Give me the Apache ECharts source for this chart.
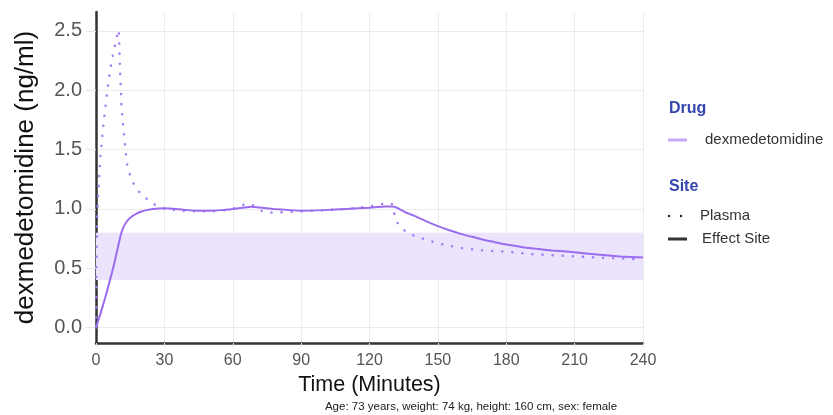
<!DOCTYPE html>
<html><head><meta charset="utf-8">
<script src="https://cdn.jsdelivr.net/npm/echarts@6/dist/echarts.min.js"></script>
<style>html,body{margin:0;padding:0;background:#fff}#c{width:833px;height:415px}</style>
</head><body><div id="c"></div>
<script>
const xTicks = [0, 30, 60, 90, 120, 150, 180, 210, 240];
const yTicks = [0.0, 0.5, 1.0, 1.5, 2.0, 2.5];
const targetBand = [0.4, 0.8];

const plasmaTime = [0,0.2,0.5,1,1.5,2,3,4,5,6,7,8,9,10,10.2,10.5,10.8,11.2,11.7,12.3,13,13.7,15,17,20,24,27,30,35,40,45,50,55,60,63,66,68,70,73,76,80,85,90,95,100,105,110,115,120,125,129,130,131,132,134,136,140,145,150,155,160,170,180,190,200,210,220,230,240];
const plasmaConc = [0,0.6,0.95,1.15,1.32,1.45,1.66,1.84,2.0,2.14,2.26,2.35,2.44,2.51,2.4,2.2,2.05,1.86,1.74,1.63,1.48,1.37,1.28,1.19,1.12,1.06,1.02,1.0,0.99,0.98,0.98,0.98,0.985,1.0,1.03,1.04,1.04,1.02,0.98,0.97,0.97,0.975,0.98,0.985,0.99,0.995,1.0,1.01,1.02,1.04,1.05,1.04,0.95,0.89,0.84,0.81,0.77,0.74,0.71,0.69,0.67,0.65,0.64,0.62,0.61,0.60,0.59,0.583,0.575];

const effectTime = [0,2,4,6,8,10,11,12,13,14,15,16,18,20,22,25,30,35,40,45,50,55,60,65,68,72,78,85,90,100,110,120,127,130,132,134,136,138,140,145,150,155,160,165,170,175,180,190,200,210,220,230,240];
const effectConc = [0,0.12,0.25,0.39,0.54,0.71,0.79,0.845,0.88,0.905,0.925,0.94,0.963,0.978,0.99,1.0,1.005,1.0,0.99,0.985,0.985,0.99,1.0,1.012,1.018,1.012,1.0,0.99,0.985,0.99,1.0,1.01,1.02,1.02,1.01,0.99,0.97,0.955,0.94,0.895,0.855,0.82,0.79,0.765,0.74,0.72,0.70,0.67,0.65,0.635,0.615,0.60,0.59];

const FONT = "'Liberation Sans', Arial, sans-serif";
const zip = (a, b) => a.map((v, i) => [v, b[i]]);

const chart = echarts.init(document.getElementById('c'));
chart.setOption({
  animation: false,
  textStyle: { fontFamily: FONT },
  grid: { left: 96, right: 190, top: 12, bottom: 72 },
  xAxis: {
    type: 'value', min: 0, max: 240, interval: 30,
    name: 'Time (Minutes)', nameLocation: 'middle', nameGap: 24,
    nameTextStyle: { fontSize: 21.5, color: '#111', fontFamily: FONT },
    axisLine: { show: true, onZero: false, lineStyle: { color: '#333', width: 2.5 } },
    axisTick: { show: true, length: 4, lineStyle: { color: '#e6e6e6' } },
    axisLabel: { fontSize: 16, color: '#555', margin: 10, fontFamily: FONT },
    splitLine: { show: true, lineStyle: { color: '#ebebeb', width: 1 } }
  },
  yAxis: {
    type: 'value', min: -0.13, max: 2.66, splitNumber: 5,
    name: 'dexmedetomidine (ng/ml)', nameLocation: 'middle', nameGap: 57,
    nameTextStyle: { fontSize: 26, color: '#111', fontFamily: FONT },
    axisLine: { show: true, onZero: false, lineStyle: { color: '#333', width: 2.5 } },
    axisTick: { show: true, length: 10, lineStyle: { color: '#e6e6e6' } },
    axisLabel: { fontSize: 20, color: '#555', margin: 14, showMinLabel: false, showMaxLabel: false,
      formatter: v => v.toFixed(1), fontFamily: FONT },
    splitLine: { show: true, showMinLine: false, showMaxLine: false, lineStyle: { color: '#ebebeb', width: 1 } }
  },
  series: [
    {
      name: 'Effect Site', type: 'line', showSymbol: false, smooth: 0.2,
      data: zip(effectTime, effectConc),
      lineStyle: { color: '#9b6cf0', width: 2 },
      markArea: { silent: true, itemStyle: { color: '#ece4fc' },
        data: [[{ yAxis: targetBand[0] }, { yAxis: targetBand[1] }]] },
      z: 3
    },
    {
      name: 'Plasma', type: 'line', showSymbol: false, smooth: false,
      data: zip(plasmaTime, plasmaConc),
      lineStyle: { color: '#a57cf5', width: 2.5, type: [0.1, 10], cap: 'round' },
      z: 2
    }
  ],
  graphic: [
    { type: 'text', left: 669, top: 101, style: { text: 'Drug', fill: '#3546b0', font: 'bold 16px ' + FONT } },
    { type: 'line', shape: { x1: 668, y1: 140, x2: 687, y2: 140 }, style: { stroke: '#c6a9f7', lineWidth: 3 } },
    { type: 'text', left: 705, top: 132, style: { text: 'dexmedetomidine', fill: '#333', font: '15px ' + FONT } },
    { type: 'text', left: 669, top: 179, style: { text: 'Site', fill: '#3546b0', font: 'bold 16px ' + FONT } },
    { type: 'circle', shape: { cx: 669, cy: 216, r: 1.2 }, style: { fill: '#222' } },
    { type: 'circle', shape: { cx: 681, cy: 216, r: 1.2 }, style: { fill: '#222' } },
    { type: 'text', left: 700, top: 208, style: { text: 'Plasma', fill: '#333', font: '15px ' + FONT } },
    { type: 'line', shape: { x1: 668, y1: 239, x2: 687, y2: 239 }, style: { stroke: '#333', lineWidth: 3 } },
    { type: 'text', left: 702, top: 231, style: { text: 'Effect Site', fill: '#333', font: '15px ' + FONT } },
    { type: 'text', x: 471, y: 407, style: { text: 'Age: 73 years, weight: 74 kg, height: 160 cm, sex: female', fill: '#222', font: '11.5px ' + FONT, align: 'center', verticalAlign: 'middle' } }
  ]
});
</script></body></html>
